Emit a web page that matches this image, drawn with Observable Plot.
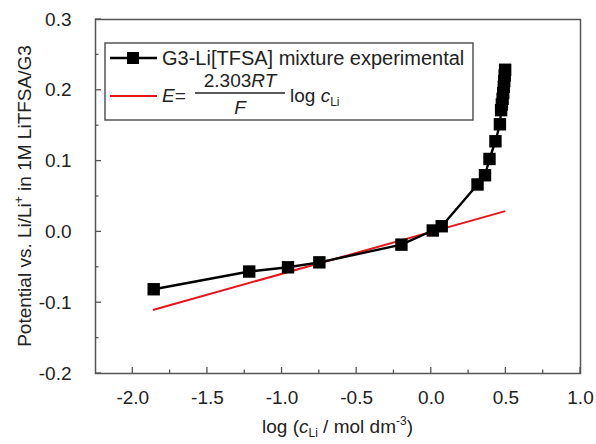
<!DOCTYPE html>
<html>
<head>
<meta charset="utf-8">
<script src="https://cdn.jsdelivr.net/npm/d3@7"></script>
<script src="https://cdn.jsdelivr.net/npm/@observablehq/plot@0.6"></script>
<style>
  html, body { margin: 0; padding: 0; background: #fff; }
  #chart { position: relative; width: 596px; height: 444px; }
  svg { font-family: "Liberation Sans", Arial, sans-serif; }
</style>
</head>
<body>
<div id="chart"></div>
<script>
// Experimental data: G3-Li[TFSA] mixture
const logC = [-1.86, -1.22, -0.96, -0.75, -0.20, 0.01, 0.07, 0.31, 0.36, 0.39, 0.43, 0.46, 0.468, 0.473, 0.478, 0.482, 0.486, 0.489, 0.492, 0.495];
const potential = [-0.081, -0.056, -0.050, -0.043, -0.018, 0.002, 0.008, 0.067, 0.080, 0.103, 0.128, 0.152, 0.172, 0.180, 0.188, 0.196, 0.205, 0.213, 0.221, 0.229];
// Nernst line endpoints
const nernstX = [-1.86, 0.49];
const nernstY = [-0.110, 0.029];
// Tick values
const xTicks = [-2.0, -1.5, -1.0, -0.5, 0.0, 0.5, 1.0];
const xMinor = [-1.75, -1.25, -0.75, -0.25, 0.25, 0.75];
const yTicks = [-0.2, -0.1, 0.0, 0.1, 0.2, 0.3];
const yMinor = [-0.15, -0.05, 0.05, 0.15, 0.25];
const legendLabels = ["G3-Li[TFSA] mixture experimental"];

const data = logC.map((x, i) => ({x, y: potential[i]}));
const nernst = nernstX.map((x, i) => ({x, y: nernstY[i]}));

const W = 596, H = 444, mL = 95, mR = 16, mT = 19, mB = 71;
const innerW = W - mL - mR, innerH = H - mT - mB;
const axisColor = "#555";

const plot = Plot.plot({
  width: W, height: H,
  marginLeft: mL, marginRight: mR, marginTop: mT, marginBottom: mB,
  style: {fontFamily: "Liberation Sans, Arial, sans-serif", background: "#fff"},
  x: {domain: [-2.25, 1.0]},
  y: {domain: [-0.2, 0.3]},
  marks: [
    Plot.axisX(xTicks, {tickSize: 0, tickPadding: 17, tickFormat: d => d.toFixed(1), fontSize: 19, fill: "#222", label: null}),
    Plot.axisY(yTicks, {tickSize: 0, tickPadding: 24, tickFormat: d => d.toFixed(1), fontSize: 19, fill: "#222", label: null}),
    Plot.line(nernst, {x: "x", y: "y", stroke: "#e8141b", strokeWidth: 2}),
    Plot.line(data, {x: "x", y: "y", stroke: "#000", strokeWidth: 2.4}),
    Plot.dot(data, {x: "x", y: "y", symbol: "square", r: 7, fill: "#000", stroke: "none"}),
    Plot.frame({stroke: axisColor, strokeWidth: 1.5})
  ]
});
document.getElementById("chart").appendChild(plot);

const svg = d3.select(plot);
const sx = plot.scale("x"), sy = plot.scale("y");
const bottom = mT + innerH, left = mL;

// Inward ticks (bottom and left)
const tg = svg.append("g").attr("stroke", axisColor).attr("stroke-width", 1.3);
xTicks.forEach(v => tg.append("line").attr("x1", sx.apply(v)).attr("x2", sx.apply(v)).attr("y1", bottom).attr("y2", bottom - 6));
xMinor.forEach(v => tg.append("line").attr("x1", sx.apply(v)).attr("x2", sx.apply(v)).attr("y1", bottom).attr("y2", bottom - 3.5));
yTicks.forEach(v => tg.append("line").attr("y1", sy.apply(v)).attr("y2", sy.apply(v)).attr("x1", left).attr("x2", left + 6));
yMinor.forEach(v => tg.append("line").attr("y1", sy.apply(v)).attr("y2", sy.apply(v)).attr("x1", left).attr("x2", left + 3.5));

// Y axis title
const yt = svg.append("text")
  .attr("transform", `translate(31, ${mT + innerH / 2}) rotate(-90)`)
  .attr("text-anchor", "middle")
  .attr("font-size", 19).attr("fill", "#222");
yt.append("tspan").text("Potential vs. Li/Li");
yt.append("tspan").text("+").attr("font-size", 12).attr("dy", -8);
yt.append("tspan").text(" in 1M LiTFSA/G3").attr("dy", 8);

// X axis title
const xt = svg.append("text")
  .attr("x", mL + innerW / 2).attr("y", 433)
  .attr("text-anchor", "middle")
  .attr("font-size", 19).attr("fill", "#222");
xt.append("tspan").text("log (");
xt.append("tspan").text("c").attr("font-style", "italic");
xt.append("tspan").text("Li").attr("font-size", 12).attr("dy", 4);
xt.append("tspan").text(" / mol dm").attr("dy", -4);
xt.append("tspan").text("-3").attr("font-size", 12).attr("dy", -8);
xt.append("tspan").text(")").attr("dy", 8);

// Legend
const lg = svg.append("g").attr("text-anchor", "start");
lg.append("rect").attr("x", 105).attr("y", 43).attr("width", 368).attr("height", 77)
  .attr("fill", "#fff").attr("stroke", axisColor).attr("stroke-width", 1.5);
lg.append("line").attr("x1", 110).attr("x2", 157).attr("y1", 58).attr("y2", 58)
  .attr("stroke", "#000").attr("stroke-width", 2.4);
lg.append("rect").attr("x", 127).attr("y", 52).attr("width", 12).attr("height", 12).attr("fill", "#000");
lg.append("text").attr("x", 162).attr("y", 65).attr("font-size", 20).attr("fill", "#222").text(legendLabels[0]);
lg.append("line").attr("x1", 110).attr("x2", 157).attr("y1", 96).attr("y2", 96)
  .attr("stroke", "#e8141b").attr("stroke-width", 2);
const e = lg.append("text").attr("x", 162).attr("y", 102).attr("font-size", 19).attr("fill", "#222");
e.append("tspan").text("E").attr("font-style", "italic");
e.append("tspan").text("=");
const num = lg.append("text").attr("x", 240).attr("y", 87).attr("text-anchor", "middle").attr("font-size", 19).attr("fill", "#222");
num.append("tspan").text("2.303");
num.append("tspan").text("RT").attr("font-style", "italic");
lg.append("line").attr("x1", 195).attr("x2", 285).attr("y1", 93).attr("y2", 93).attr("stroke", "#222").attr("stroke-width", 1.3);
lg.append("text").attr("x", 240).attr("y", 114).attr("text-anchor", "middle").attr("font-size", 19)
  .attr("font-style", "italic").attr("fill", "#222").text("F");
const lc = lg.append("text").attr("x", 290).attr("y", 102).attr("font-size", 19).attr("fill", "#222");
lc.append("tspan").text("log ");
lc.append("tspan").text("c").attr("font-style", "italic");
lc.append("tspan").text("Li").attr("font-size", 12).attr("dy", 4);
</script>
</body>
</html>
